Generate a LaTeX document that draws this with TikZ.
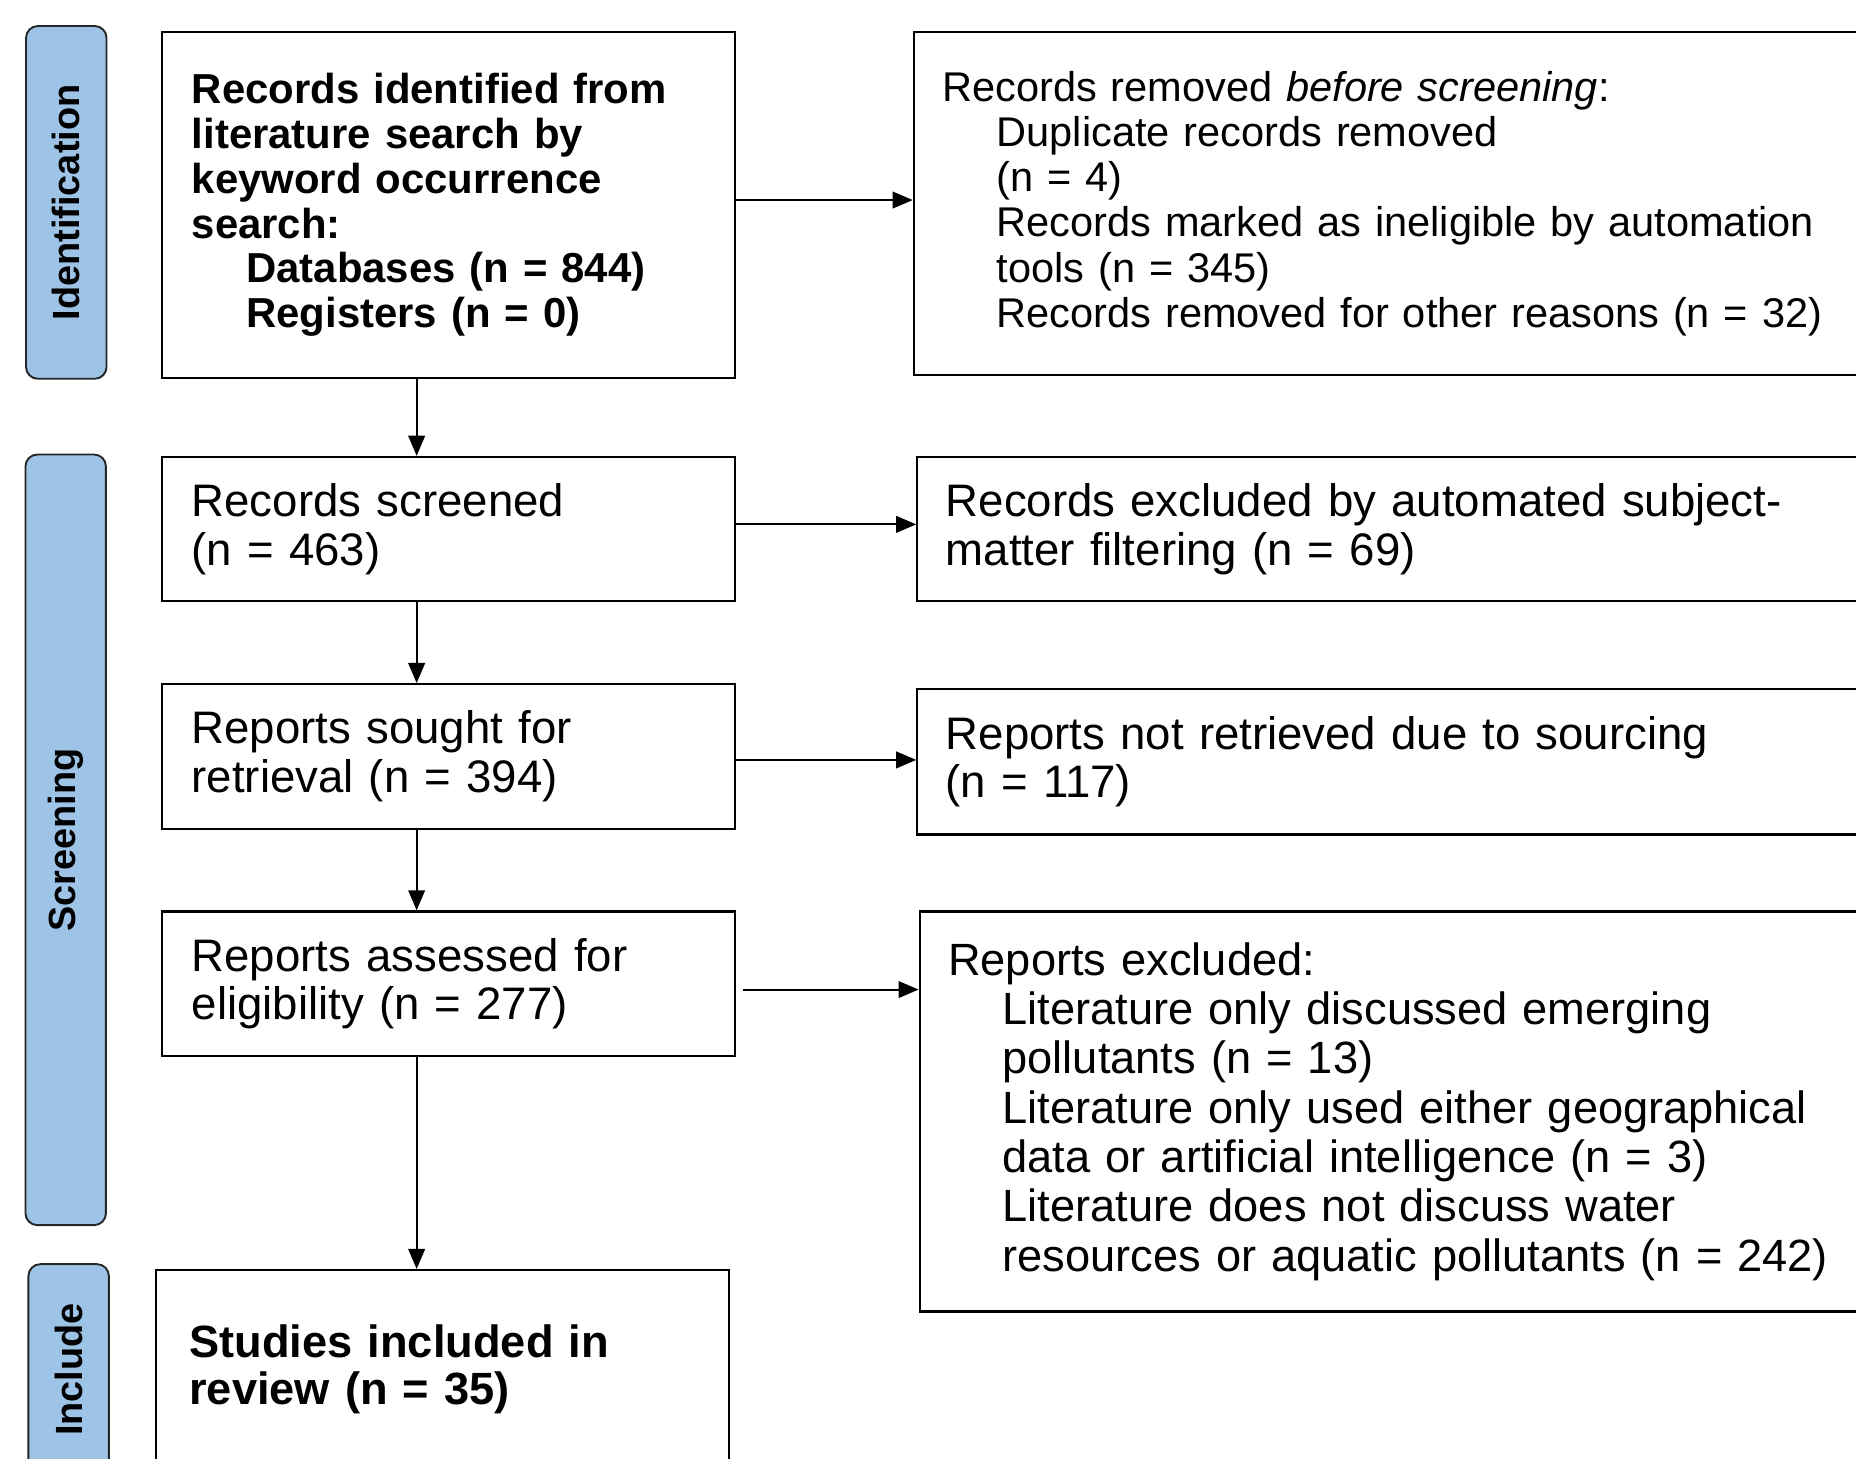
\documentclass[tikz,border=0pt]{standalone}
\usepackage{fontspec}
\setmainfont{Liberation Sans}
\usetikzlibrary{arrows.meta}
\usetikzlibrary{positioning}
\definecolor{stageblue}{RGB}{157, 195, 230}
\newcommand{\ind}{\hspace*{23pt}}

\tikzset{
  stage/.style    = {draw=black!85, fill=stageblue, rounded corners=5pt, line width=0.8pt,
                     rotate=90, minimum height=34pt, inner sep=0pt,
                     font=\fontsize{16}{18}\selectfont\bfseries},
  flowbox/.style  = {draw, line width=0.9pt, text width=217pt, inner xsep=12.5pt, inner ysep=0pt,
                     align=left, font=\fontsize{19.25}{20.5}\selectfont},
  sidebox/.style  = {flowbox, text width=388pt, inner xsep=12pt},
  arr/.style      = {line width=0.9pt, -{Triangle[length=8.5pt,width=7pt]}}
}

\begin{document}
\begin{tikzpicture}[x=0.5pt, y=-0.5pt]
    \useasboundingbox (0,0) rectangle (1568,1232);
    \clip (0,0) rectangle (1568,1232);

    \node[stage, minimum width=149pt]   (ident)  at (56, 171)    {Identification};
    \node[stage, minimum width=325.5pt] (screen) at (55.5, 709.5) {Screening};
    \node[stage, minimum width=89pt]    (incl)   at (58, 1157)   {Include};

    \node[flowbox, minimum height=146pt, font=\fontsize{17.7}{19}\selectfont\bfseries] (found) at (379, 173)
        {Records identified from\\literature search by\\keyword occurrence\\search:\\\ind Databases (n = 844)\\\ind Registers (n = 0)};
    \node[sidebox, minimum height=145pt, font=\fontsize{17.55}{19.1}\selectfont] (removed) at (1184, 172)
        {Records removed \textit{before screening}:\\\ind Duplicate records removed\\\ind (n = 4)\\\ind Records marked as ineligible by automation\\\ind tools (n = 345)\\\ind Records removed for other reasons (n = 32)};

    \node[flowbox, minimum height=61pt]   (screened)  at (379, 447)    {Records screened\\(n = 463)};
    \node[sidebox, minimum height=61pt]   (excluded)  at (1187, 447)   {Records excluded by automated subject-\\matter filtering (n = 69)};

    \node[flowbox, minimum height=61pt]   (sought)    at (379, 639)    {Reports sought for\\retrieval (n = 394)};
    \node[sidebox, minimum height=61.5pt] (notfound)  at (1187, 643.5) {Reports not retrieved due to sourcing\\(n = 117)};

    \node[flowbox, minimum height=61pt]   (assessed)  at (379, 831)    {Reports assessed for\\eligibility (n = 277)};
    \node[sidebox, minimum height=169pt, font=\fontsize{19.1}{20.85}\selectfont] (rejected)  at (1189, 939)
        {Reports excluded:\\\ind Literature only discussed emerging\\\ind pollutants (n = 13)\\\ind Literature only used either geographical\\\ind data or artificial intelligence (n = 3)\\\ind Literature does not discuss water\\\ind resources or aquatic pollutants (n = 242)};

    \node[flowbox, minimum height=84pt, inner xsep=14pt, text width=214pt, font=\fontsize{19.1}{19.8}\selectfont\bfseries] (included) at (374, 1157)
        {Studies included in\\review (n = 35)};

    \draw[arr] ([yshift=2pt]found.east)    -- ([yshift=2pt]found.east -| removed.west);
    \draw[arr] ([yshift=2pt]screened.east) -- ([yshift=2pt]screened.east -| excluded.west);
    \draw[arr] ([yshift=-1.5pt]sought.east) -- ([yshift=-1.5pt]sought.east -| notfound.west);
    \draw[arr] ([xshift=3pt,yshift=-2.5pt]assessed.east) -- ([yshift=-2.5pt]assessed.east -| rejected.west);

    \draw[arr] ([xshift=-13.5pt]found.south)    -- ([xshift=-13.5pt]screened.north);
    \draw[arr] ([xshift=-13.5pt]screened.south) -- ([xshift=-13.5pt]sought.north);
    \draw[arr] ([xshift=-13.5pt]sought.south)   -- ([xshift=-13.5pt]assessed.north);
    \draw[arr] ([xshift=-13.5pt]assessed.south) -- ([xshift=-13.5pt]assessed.south |- included.north);
\end{tikzpicture}
\end{document}
